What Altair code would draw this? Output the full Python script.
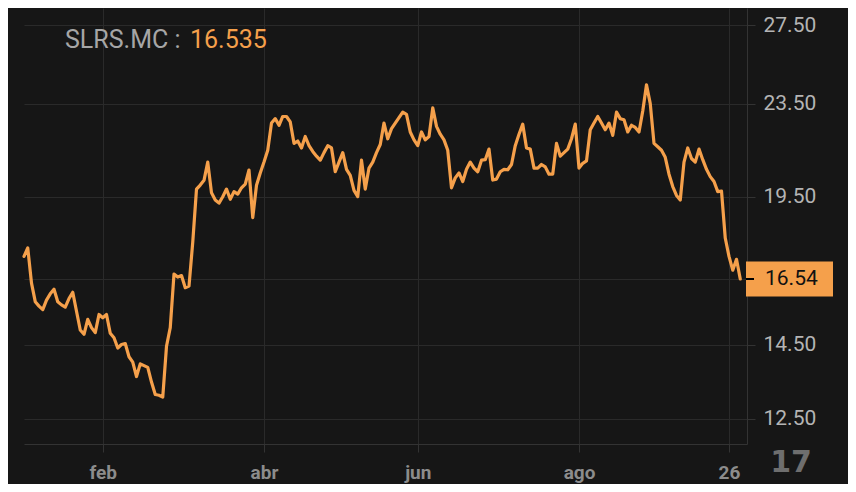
import altair as alt
import pandas as pd
from decimal import Decimal, ROUND_HALF_UP

# ---- data (daily closes, trading-day index) ----
prices = [
    17.3, 17.6, 16.4, 15.8, 15.66, 15.55, 15.85, 16.05, 16.2, 15.8,
    15.7, 15.63, 15.9, 16.1, 15.5, 14.93, 14.8, 15.25, 15.0, 14.85,
    15.4, 15.3, 15.4, 14.83, 14.7, 14.4, 14.5, 14.53, 14.15, 14.0,
    13.6, 13.95, 13.9, 13.85, 13.45, 13.12, 13.1, 13.05, 14.45, 15.0,
    16.7, 16.6, 16.65, 16.25, 16.3, 17.8, 19.8, 19.96, 20.15, 20.9,
    19.65, 19.37, 19.25, 19.5, 19.8, 19.4, 19.7, 19.6, 19.85, 20.0,
    20.57, 18.7, 19.95, 20.45, 20.9, 21.4, 22.6, 22.8, 22.5, 22.9,
    22.9, 22.65, 21.7, 21.8, 21.5, 22.0, 21.6, 21.35, 21.15, 20.98,
    21.3, 21.6, 21.5, 20.5, 20.9, 21.3, 20.6, 20.35, 19.75, 19.5,
    20.98, 19.8, 20.65, 20.9, 21.3, 21.65, 22.6, 21.9, 22.35, 22.6,
    22.85, 23.1, 23.0, 22.2, 21.85, 21.6, 22.2, 21.85, 22.0, 23.3,
    22.45, 22.1, 21.85, 21.4, 19.85, 20.25, 20.45, 20.1, 20.6, 20.9,
    20.65, 20.5, 20.98, 21.0, 21.45, 20.16, 20.2, 20.5, 20.6, 20.58,
    20.8, 21.6, 22.1, 22.55, 21.5, 21.45, 20.65, 20.65, 20.8, 20.7,
    20.4, 20.4, 21.7, 21.15, 21.3, 21.45, 21.9, 22.55, 20.65, 20.85,
    20.95, 22.3, 22.6, 22.9, 22.6, 22.3, 22.6, 22.05, 23.1, 22.8,
    22.75, 22.2, 22.5, 22.4, 22.2, 23.15, 24.4, 23.5, 21.7, 21.55,
    21.4, 21.1, 20.4, 19.9, 19.55, 19.37, 20.9, 21.5, 21.05, 20.9,
    21.45, 21.0, 20.6, 20.3, 20.1, 19.7, 19.72, 17.95, 17.3, 16.83,
    17.2, 16.535,
]
x_tick_idx = [21, 64, 105, 148, 188]
x_tick_labels = ["feb", "abr", "jun", "ago", "26"]
y_tick_values = [12.5, 14.5, 19.5, 23.5, 27.5]
ticker = "SLRS.MC"

last_price = prices[-1]
last_label = str(Decimal(str(last_price)).quantize(Decimal("0.01"), rounding=ROUND_HALF_UP))

df = pd.DataFrame({"i": list(range(len(prices))), "price": prices})
last_df = pd.DataFrame({"price": [last_price], "label": [last_label]})
legend_df = pd.DataFrame({"name": [f"{ticker} :"], "val": [f"{last_price}"]})
logo_df = pd.DataFrame({"t": ["17"]})

BG = "#161616"
GRID = "#2a2a2a"
AXIS = "#333333"
ORANGE = "#f5a04b"
FONT = "Roboto"

label_expr = " : ".join(
    f"datum.value == {v} ? '{l}'" for v, l in zip(x_tick_idx, x_tick_labels)
) + " : ''"

# y grid includes the last-price level; its label is drawn in the price box instead
y_grid_values = sorted(y_tick_values + [last_price])
y_label_expr = f"datum.value == {last_price} ? '' : format(datum.value, '.2f')"

x_scale = alt.Scale(domain=[0, 192.8], nice=False, zero=False)
y_scale = alt.Scale(type="log", domain=[11.88, 28.46], nice=False, zero=False)

x_axis = alt.Axis(
    values=x_tick_idx, labelExpr=label_expr, title=None,
    grid=True, gridColor=GRID, gridWidth=1,
    domainColor=AXIS, tickColor=AXIS, tickSize=8,
    labelColor="#8c8c8c", labelFont=FONT, labelFontSize=19,
    labelFontWeight="bold", labelPadding=11, labelFlush=False,
    labelOverlap=False,
)
y_axis = alt.Axis(
    orient="right", values=y_grid_values, labelExpr=y_label_expr, title=None,
    grid=True, gridColor=GRID, gridWidth=1,
    domainColor=AXIS, tickColor=AXIS, tickSize=8,
    labelColor="#b4b4b4", labelFont=FONT, labelFontSize=21,
    labelPadding=8, labelFlush=False, labelOverlap=False,
)

line = alt.Chart(df).mark_line(
    color=ORANGE, strokeWidth=3.2, strokeJoin="round", strokeCap="round"
).encode(
    x=alt.X("i:Q", scale=x_scale, axis=x_axis),
    y=alt.Y("price:Q", scale=y_scale, axis=y_axis),
)

Y = lambda: alt.Y("price:Q", scale=y_scale, axis=y_axis)

box = alt.Chart(last_df).mark_rect(
    color=ORANGE, yOffset=-17.5, y2Offset=17.5
).encode(x=alt.value(722), x2=alt.value(809), y=Y(), y2="price:Q")

box_tick = alt.Chart(last_df).mark_rule(color="#000000", strokeWidth=2).encode(
    x=alt.value(722), x2=alt.value(730), y=Y()
)

price_text = alt.Chart(last_df).mark_text(
    align="left", baseline="middle", fontSize=21, font=FONT, color="#111111"
).encode(x=alt.value(741), y=Y(), text="label:N")

legend_name = alt.Chart(legend_df).mark_text(
    align="left", baseline="middle", fontSize=25, font=FONT, color="#a6a6a6"
).encode(x=alt.value(41), y=alt.value(32), text="name:N")

legend_val = alt.Chart(legend_df).mark_text(
    align="left", baseline="middle", fontSize=25, font=FONT, color=ORANGE
).encode(x=alt.value(166), y=alt.value(32), text="val:N")

logo = alt.Chart(logo_df).mark_text(
    align="center", baseline="middle", fontSize=30, font="DejaVu Sans",
    fontWeight="bold", color="#6e6e6e"
).encode(x=alt.value(767), y=alt.value(455), text="t:N")

chart = alt.layer(
    line, box, box_tick, price_text, legend_name, legend_val, logo
).properties(
    width=723, height=436, background=BG,
    padding={"left": 16, "top": 0, "right": 101, "bottom": 40},
    autosize=alt.AutoSizeParams(type="none"),
).configure_view(stroke=None)

chart.save("out.html", embed_options={"renderer": "svg", "actions": False})
